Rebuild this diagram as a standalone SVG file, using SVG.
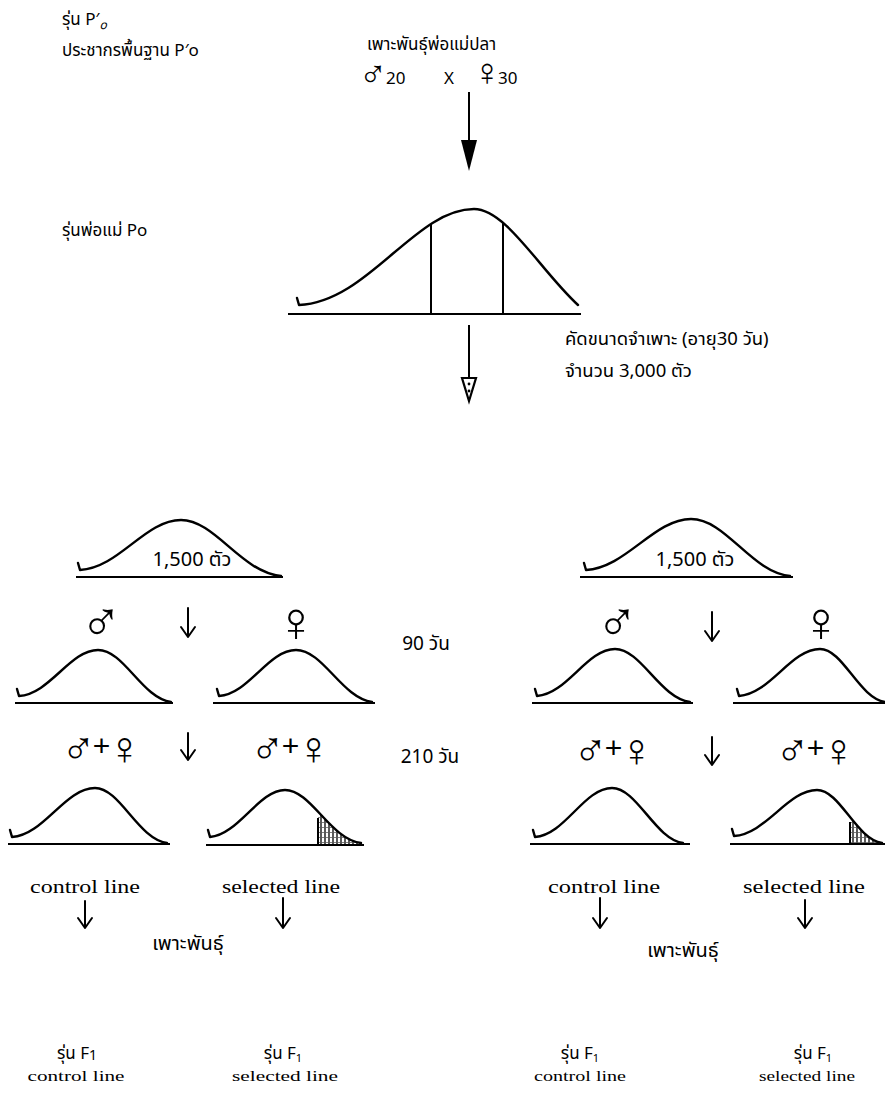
<svg xmlns="http://www.w3.org/2000/svg" width="885" height="1093" viewBox="0 0 885 1093">
<style>
.th{font-family:"Noto Sans Thai","Noto Sans","DejaVu Sans",sans-serif;font-size:17px;fill:#000}
.sym{font-family:"Liberation Sans","DejaVu Sans",sans-serif;font-size:56px;fill:#000}
.sym.small{font-size:38px}
.pair{font-size:46px;letter-spacing:-3px}
.pl{font-size:30px}
.lbl{font-family:"Liberation Serif",serif;font-size:18px;fill:#000}
.sm{font-family:"Liberation Serif",serif;font-size:15px;fill:#000}
.curve{fill:none;stroke:#000;stroke-width:2.4;stroke-linecap:round;stroke-linejoin:round}
.base{stroke:#000;stroke-width:2;fill:none}
.arr{fill:none;stroke:#000;stroke-width:2;stroke-linecap:round;stroke-linejoin:round}
</style>
<defs>
<pattern id="hatch" width="4" height="5" patternUnits="userSpaceOnUse">
<rect width="4" height="5" fill="#fff"/>
<line x1="1" y1="0" x2="1" y2="5" stroke="#000" stroke-width="1.3"/>
<rect x="2.5" y="2" width="1" height="1" fill="#000"/>
</pattern>
<clipPath id="clipP0"><path d="M297,315 L297,305 C368,302 415,209 474,209 C506,209 540,270 578,305 L580,315 Z"/></clipPath>
<clipPath id="clipSL"><path d="M208,845 L208,837 C238,835 259,790 285,790 C311,790 330,839 361,843 L363,845 Z"/></clipPath>
<clipPath id="clipSR"><path d="M732,845 L732,836 C766,834 788,790 817,790 C840,790 856,839 882,843 L884,845 Z"/></clipPath>
</defs>

<g id="header">
<text class="th" x="62" y="25">รุ่น P′<tspan font-size="12" dy="4" font-style="italic">o</tspan></text>
<text class="th" x="62" y="56">ประชากรพื้นฐาน P′o</text>
</g>

<g id="parents">
<text class="th" x="367" y="50">เพาะพันธุ์พ่อแม่ปลา</text>
<text class="sym small" x="373" y="87" text-anchor="middle">♂</text>
<text class="th" x="386" y="84">20</text>
<text class="th" x="449" y="84" text-anchor="middle">X</text>
<text class="sym small" x="487" y="85" text-anchor="middle">♀</text>
<text class="th" x="498" y="84">30</text>
</g>

<g id="p0-label"><text class="th" x="62" y="236">รุ่นพ่อแม่ Po</text></g>

<g id="p0-curve">
<line class="base" x1="288" y1="314" x2="581" y2="314"/>
<path class="curve" d="M297,298 L299,305 C368,302 415,209 474,209 C506,209 540,270 578,305"/>
<g clip-path="url(#clipP0)">
<line x1="431" y1="200" x2="431" y2="314" stroke="#000" stroke-width="2"/>
<line x1="503" y1="200" x2="503" y2="314" stroke="#000" stroke-width="2"/>
</g>
</g>

<g id="selection-note">
<text class="th" x="565" y="345" style="font-size:18.5px">คัดขนาดจำเพาะ (อายุ30 วัน)</text>
<text class="th" x="565" y="377" style="font-size:18.5px">จำนวน 3,000 ตัว</text>
</g>

<g id="group-left-1500">
<line class="base" x1="76" y1="577" x2="283" y2="577"/>
<path class="curve" d="M78,563 L80,570 C119,568 145,520 181,520 C215,520 241,572 281,576"/>
<text class="th" x="192" y="566" text-anchor="middle" style="font-size:20px">1,500 ตัว</text>
</g>
<g id="group-right-1500">
<line class="base" x1="580" y1="577" x2="793" y2="577"/>
<path class="curve" d="M584,563 L586,570 C626,568 654,519 691,519 C726,519 751,572 790,576"/>
<text class="th" x="695" y="566" text-anchor="middle" style="font-size:20px">1,500 ตัว</text>
</g>

<g id="left-male-90">
<text class="sym" x="101" y="641" text-anchor="middle">♂</text>
<line class="base" x1="15" y1="703" x2="173" y2="703"/>
<path class="curve" d="M17,689 L19,696 C50,694 70,650 98,650 C124,650 142,698 171,702"/>
</g>
<g id="left-female-90">
<text class="sym" x="296" y="641" text-anchor="middle">♀</text>
<line class="base" x1="213" y1="703" x2="375" y2="703"/>
<path class="curve" d="M217,689 L219,696 C249,694 268,650 296,650 C323,650 342,698 372,702"/>
</g>
<g id="right-male-90">
<text class="sym" x="617" y="641" text-anchor="middle">♂</text>
<line class="base" x1="532" y1="703" x2="693" y2="703"/>
<path class="curve" d="M535,689 L537,696 C567,694 587,649 615,649 C641,649 660,698 690,702"/>
</g>
<g id="right-female-90">
<text class="sym" x="821" y="641" text-anchor="middle">♀</text>
<line class="base" x1="733" y1="703" x2="885" y2="703"/>
<path class="curve" d="M737,689 L739,696 C770,694 791,649 820,649 C843,649 859,698 885,702"/>
</g>

<g id="day-labels">
<text class="th" x="426" y="650" text-anchor="middle" style="font-size:19px">90 วัน</text>
<text class="th" x="430" y="763" text-anchor="middle" style="font-size:19px">210 วัน</text>
</g>

<g id="left-control-210">
<text class="sym pair" x="100" y="764" text-anchor="middle">♂<tspan class="pl" dy="-8">+</tspan><tspan dy="8">♀</tspan></text>
<line class="base" x1="8" y1="844" x2="170" y2="844"/>
<path class="curve" d="M10,830 L12,837 C44,835 65,788 95,788 C120,788 138,839 167,843"/>
</g>
<g id="left-selected-210">
<text class="sym pair" x="289" y="764" text-anchor="middle">♂<tspan class="pl" dy="-8">+</tspan><tspan dy="8">♀</tspan></text>
<rect x="318" y="780" width="46" height="66" fill="url(#hatch)" clip-path="url(#clipSL)"/>
<line x1="318" y1="818" x2="318" y2="845" stroke="#000" stroke-width="2"/>
<line class="base" x1="206" y1="845" x2="364" y2="845"/>
<path class="curve" d="M208,830 L210,837 C238,835 259,790 285,790 C311,790 330,839 361,843"/>
</g>
<g id="right-control-210">
<text class="sym pair" x="612" y="766" text-anchor="middle">♂<tspan class="pl" dy="-8">+</tspan><tspan dy="8">♀</tspan></text>
<line class="base" x1="530" y1="844" x2="690" y2="844"/>
<path class="curve" d="M533,830 L535,837 C565,835 584,788 612,788 C637,788 655,839 683,843"/>
</g>
<g id="right-selected-210">
<text class="sym pair" x="814" y="766" text-anchor="middle">♂<tspan class="pl" dy="-8">+</tspan><tspan dy="8">♀</tspan></text>
<rect x="850" y="780" width="35" height="66" fill="url(#hatch)" clip-path="url(#clipSR)"/>
<line x1="850" y1="822" x2="850" y2="844" stroke="#000" stroke-width="2"/>
<line class="base" x1="730" y1="844" x2="885" y2="844"/>
<path class="curve" d="M732,829 L734,836 C766,834 788,790 817,790 C840,790 856,839 882,843"/>
</g>

<g id="line-labels">
<text class="lbl" x="85" y="893" text-anchor="middle" textLength="110" lengthAdjust="spacingAndGlyphs">control line</text>
<text class="lbl" x="281" y="893" text-anchor="middle" textLength="118" lengthAdjust="spacingAndGlyphs">selected line</text>
<text class="lbl" x="604" y="893" text-anchor="middle" textLength="112" lengthAdjust="spacingAndGlyphs">control line</text>
<text class="lbl" x="804" y="893" text-anchor="middle" textLength="122" lengthAdjust="spacingAndGlyphs">selected line</text>
</g>

<g id="breed-labels">
<text class="th" x="188" y="950" text-anchor="middle" style="font-size:20px">เพาะพันธุ์</text>
<text class="th" x="683" y="957" text-anchor="middle" style="font-size:20px">เพาะพันธุ์</text>
</g>

<g id="f1-labels">
<text class="th" x="77" y="1059" text-anchor="middle">รุ่น F<tspan font-size="14" dy="1">1</tspan></text>
<text class="sm" x="76" y="1081" text-anchor="middle" textLength="97" lengthAdjust="spacingAndGlyphs">control line</text>
<text class="th" x="283" y="1059" text-anchor="middle">รุ่น F<tspan font-size="11" dy="3">1</tspan></text>
<text class="sm" x="285" y="1081" text-anchor="middle" textLength="106" lengthAdjust="spacingAndGlyphs">selected line</text>
<text class="th" x="580" y="1059" text-anchor="middle">รุ่น F<tspan font-size="11" dy="3">1</tspan></text>
<text class="sm" x="580" y="1081" text-anchor="middle" textLength="92" lengthAdjust="spacingAndGlyphs">control line</text>
<text class="th" x="813" y="1059" text-anchor="middle">รุ่น F<tspan font-size="11" dy="3">1</tspan></text>
<text class="sm" x="807" y="1081" text-anchor="middle" textLength="96" lengthAdjust="spacingAndGlyphs">selected line</text>
</g>

<g id="connectors">
<line x1="469" y1="92" x2="469" y2="142" stroke="#000" stroke-width="2"/>
<path d="M461,140 L477,140 L469,171 Z" fill="#000"/>
<line x1="469" y1="325" x2="469" y2="380" stroke="#000" stroke-width="2"/>
<path d="M462,378 L476,378 L469,401 Z" fill="#fff" stroke="#000" stroke-width="2.2"/>
<circle cx="469" cy="384" r="1.4" fill="#000"/>
<circle cx="469" cy="391" r="1.4" fill="#000"/>
<path class="arr" d="M188,608 L188,637 M181,627 L188,637 L195,627"/>
<path class="arr" d="M712,612 L712,641 M705,631 L712,641 L719,631"/>
<path class="arr" d="M188,733 L188,760 M181,750 L188,760 L195,750"/>
<path class="arr" d="M712,737 L712,765 M705,755 L712,765 L719,755"/>
<path class="arr" d="M85,901 L85,928 M78,918 L85,928 L92,918"/>
<path class="arr" d="M283,898 L283,928 M276,918 L283,928 L290,918"/>
<path class="arr" d="M600,898 L600,928 M593,918 L600,928 L607,918"/>
<path class="arr" d="M805,900 L805,928 M798,918 L805,928 L812,918"/>
</g>
</svg>
